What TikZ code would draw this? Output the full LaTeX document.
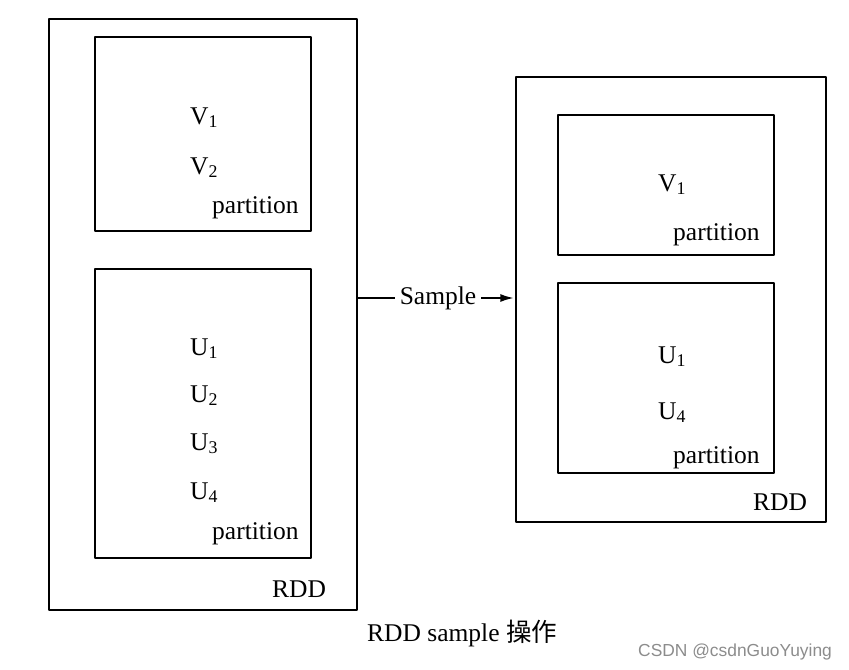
\documentclass[tikz,border=0pt]{standalone}
\usepackage{fontspec}
\setmainfont{Liberation Serif}
\newfontfamily\cjk{Noto Sans CJK SC}
\newfontfamily\wmfont{Liberation Sans}
\usetikzlibrary{arrows.meta}
\definecolor{wmgray}{rgb}{0.55,0.55,0.55}
\tikzset{
  box/.style={draw,rectangle,line width=1.3bp,inner sep=0pt},
  lbl/.style={anchor=base west,inner sep=0pt,font=\fontsize{25.5bp}{30bp}\selectfont},
}
\newcommand{\sub}[1]{\textsubscript{#1}}
\begin{document}
\begin{tikzpicture}[>={Latex[length=13bp,width=8bp]},line join=bevel,]
\useasboundingbox (0bp,0bp) rectangle (849bp,-670bp);
%%
\node (lrdd) at (203bp,-314.5bp) [box,minimum width=308bp,minimum height=591bp] {};
  \node (lv) at (203bp,-134bp) [box,minimum width=216bp,minimum height=194bp] {};
  \node (lu) at (203bp,-413.5bp) [box,minimum width=216bp,minimum height=289bp] {};
  \node (rrdd) at (671bp,-299.5bp) [box,minimum width=310bp,minimum height=445bp] {};
  \node (rv) at (666bp,-185bp) [box,minimum width=216bp,minimum height=140bp] {};
  \node (ru) at (666bp,-378bp) [box,minimum width=216bp,minimum height=190bp] {};
%% left side
  \node (lv1) at (190bp,-124bp) [lbl] {V\sub{1}};
  \node (lv2) at (190bp,-174bp) [lbl] {V\sub{2}};
  \node (lvp) at (212bp,-213bp) [lbl] {partition};
  \node (lu1) at (190bp,-355bp) [lbl] {U\sub{1}};
  \node (lu2) at (190bp,-402bp) [lbl] {U\sub{2}};
  \node (lu3) at (190bp,-450bp) [lbl] {U\sub{3}};
  \node (lu4) at (190bp,-499bp) [lbl] {U\sub{4}};
  \node (lup) at (212bp,-539bp) [lbl] {partition};
  \node (lname) at (272bp,-597bp) [lbl] {RDD};
%% right side
  \node (rv1) at (658bp,-191bp) [lbl] {V\sub{1}};
  \node (rvp) at (673bp,-240bp) [lbl] {partition};
  \node (ru1) at (658bp,-363bp) [lbl] {U\sub{1}};
  \node (ru4) at (658bp,-419bp) [lbl] {U\sub{4}};
  \node (rup) at (673bp,-463bp) [lbl] {partition};
  \node (rname) at (753bp,-510bp) [lbl] {RDD};
%% arrow
  \node (smp) at (438bp,-298bp) [font=\fontsize{25.5bp}{30bp}\selectfont,inner sep=5bp] {Sample};
  \draw [line width=1.3bp] (lrdd.east |- smp) -- (smp.west);
  \draw [->,line width=1.3bp] (smp.east) -- ([xshift=-2bp]rrdd.west |- smp);
%% caption
  \node (cap) at (367bp,-641bp) [lbl] {RDD sample {\cjk 操作}};
  \node (wm) at (638bp,-656bp) [anchor=base west,inner sep=0pt,text=wmgray,font=\wmfont\fontsize{17.4bp}{20bp}\selectfont] {CSDN @csdnGuoYuying};
%
\end{tikzpicture}
\end{document}
